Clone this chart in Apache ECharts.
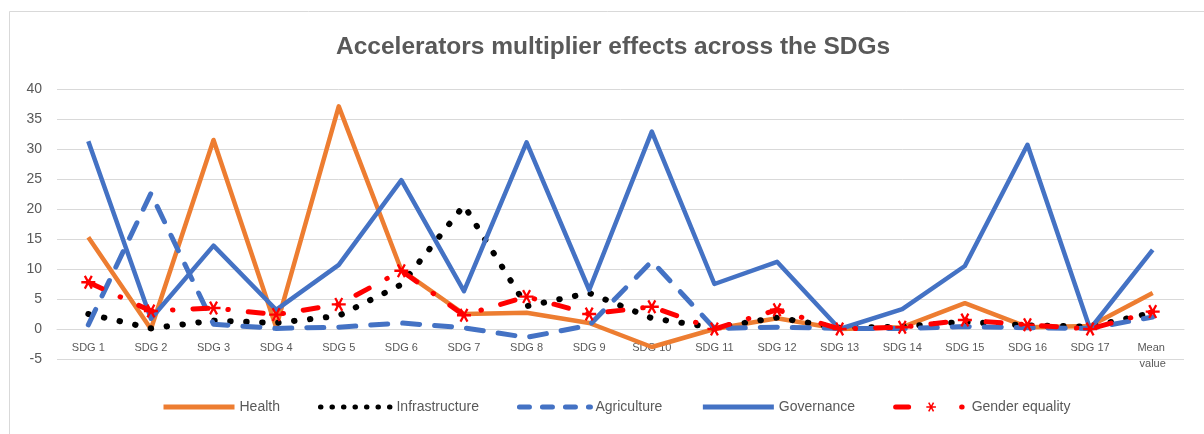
<!DOCTYPE html>
<html>
<head>
<meta charset="utf-8">
<script src="https://cdn.jsdelivr.net/npm/echarts@6/dist/echarts.min.js"></script>
<style>
  html, body { margin: 0; padding: 0; background: #fff; }
  #chart { width: 1204px; height: 434px; }
</style>
</head>
<body>
<div id="chart"></div>
<script>
// values
const categories = ['SDG 1', 'SDG 2', 'SDG 3', 'SDG 4', 'SDG 5', 'SDG 6', 'SDG 7', 'SDG 8', 'SDG 9',
  'SDG 10', 'SDG 11', 'SDG 12', 'SDG 13', 'SDG 14', 'SDG 15', 'SDG 16', 'SDG 17', 'Mean value'];
const health = [15.3, 0, 31.5, 0.3, 37.1, 9.8, 2.5, 2.7, 1.0, -3.0, 0, 1.8, 0, 0.3, 4.3, 0.3, 0.5, 6.0];
const infrastructure = [2.5, 0.1, 1.4, 1.0, 2.2, 7.4, 20.6, 3.8, 6.0, 1.8, 0.2, 1.9, 0.2, 0.4, 1.2, 0.6, 0.4, 2.7];
const agriculture = [0.7, 22.6, 0.8, 0.1, 0.3, 1.0, 0.2, -1.4, 0.6, 11.3, 0.1, 0.3, 0.1, 0.1, 0.4, 0.2, 0.1, 2.0];
const governance = [31.3, 1.7, 13.9, 3.2, 10.7, 24.8, 6.3, 31.1, 6.5, 32.9, 7.5, 11.2, 0, 3.3, 10.5, 30.7, 0, 13.2];
const gender = [7.8, 3.0, 3.5, 2.4, 4.1, 9.7, 2.3, 5.4, 2.5, 3.7, 0, 3.2, 0, 0.3, 1.5, 0.7, 0, 2.9];

const grey = '#595959';
const font = 'Liberation Sans, Arial, sans-serif';

// asterisk marker like the Excel "star" marker
const starPath = 'path://M-5,-0.8L5,-0.8L5,0.8L-5,0.8Z' +
  'M1.807,4.73L-3.193,-3.93L-1.807,-4.73L3.193,3.93Z' +
  'M-3.193,3.93L1.807,-4.73L3.193,-3.93L-1.807,4.73Z';

const noMarker = { opacity: 0 };

const chart = echarts.init(document.getElementById('chart'), null, { renderer: 'canvas' });

chart.setOption({
  animation: false,
  backgroundColor: '#fff',
  title: {
    text: 'Accelerators multiplier effects across the SDGs',
    left: 331,
    top: 30,
    textStyle: { fontFamily: font, fontSize: 24.5, fontWeight: 'bold', color: grey }
  },
  graphic: [{
    type: 'rect',
    shape: { x: 9.5, y: 11.5, width: 1300, height: 500 },
    style: { fill: 'none', stroke: '#D9D9D9', lineWidth: 1 },
    silent: true
  }],
  legend: {
    left: 156,
    top: 395,
    itemWidth: 71,
    itemHeight: 12,
    itemGap: 38,
    lineStyle: { width: 5 },
    textStyle: { fontFamily: font, fontSize: 14, color: grey },
    data: [
      { name: 'Health', itemStyle: noMarker },
      { name: 'Infrastructure', itemStyle: noMarker, lineStyle: { type: [0.5, 11], cap: 'round' } },
      { name: 'Agriculture', itemStyle: noMarker, lineStyle: { type: [10, 13], cap: 'round' } },
      { name: 'Governance', itemStyle: noMarker },
      { name: 'Gender equality', lineStyle: { type: [13, 53, 0.5, 40], cap: 'round' } }
    ]
  },
  grid: { left: 57, right: 20, top: 89, bottom: 75 },
  xAxis: {
    type: 'category',
    data: categories,
    boundaryGap: true,
    axisLine: { onZero: true, lineStyle: { color: '#D9D9D9', width: 1 } },
    axisTick: { show: false },
    axisLabel: {
      interval: 0,
      margin: -19,
      fontFamily: font,
      fontSize: 11,
      lineHeight: 16,
      color: grey,
      width: 50,
      overflow: 'break'
    }
  },
  yAxis: {
    type: 'value',
    min: -5,
    max: 40,
    interval: 5,
    axisLine: { show: false },
    axisTick: { show: false },
    axisLabel: { fontFamily: font, fontSize: 14, color: grey, margin: 15 },
    splitLine: { lineStyle: { color: '#D9D9D9', width: 1 } }
  },
  series: [
    {
      name: 'Health', type: 'line', data: health, symbol: 'none',
      itemStyle: { color: '#ED7D31' },
      lineStyle: { color: '#ED7D31', width: 4.5, join: 'round' }
    },
    {
      name: 'Infrastructure', type: 'line', data: infrastructure, symbol: 'none',
      itemStyle: { color: '#000' },
      lineStyle: { color: '#000', width: 6, type: [0.5, 15.5], cap: 'round' }
    },
    {
      name: 'Agriculture', type: 'line', data: agriculture, symbol: 'none',
      itemStyle: { color: '#4472C4' },
      lineStyle: { color: '#4472C4', width: 5, type: [17, 15], cap: 'round', join: 'round' }
    },
    {
      name: 'Governance', type: 'line', data: governance, symbol: 'none',
      itemStyle: { color: '#4472C4' },
      lineStyle: { color: '#4472C4', width: 4.5, join: 'round' }
    },
    {
      name: 'Gender equality', type: 'line', data: gender,
      symbol: starPath, symbolSize: 14, showAllSymbol: true,
      itemStyle: { color: '#FF0000' },
      lineStyle: { color: '#FF0000', width: 5, type: [15, 20, 0.5, 20], cap: 'round' }
    }
  ]
});
</script>
</body>
</html>
